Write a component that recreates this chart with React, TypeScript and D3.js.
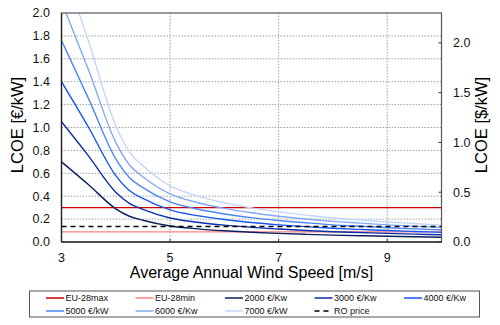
import React from "react";
import * as d3 from "d3";

const speeds = [3, 3.5, 4, 4.25, 4.5, 5, 5.5, 6, 6.5, 7, 7.5, 8, 8.5, 9, 9.5, 10];
const lcoe2000 = [0.70, 0.50, 0.29, 0.225, 0.19, 0.14, 0.115, 0.098, 0.085, 0.075, 0.067, 0.06, 0.055, 0.05, 0.046, 0.042];
const lcoe3000 = [1.05, 0.75, 0.435, 0.338, 0.285, 0.21, 0.173, 0.147, 0.128, 0.113, 0.1, 0.09, 0.083, 0.075, 0.069, 0.063];
const lcoe4000 = [1.40, 1.00, 0.58, 0.45, 0.38, 0.28, 0.23, 0.196, 0.17, 0.15, 0.134, 0.12, 0.11, 0.10, 0.092, 0.084];
const lcoe5000 = [1.76, 1.25, 0.725, 0.563, 0.475, 0.35, 0.288, 0.245, 0.213, 0.188, 0.168, 0.15, 0.138, 0.125, 0.115, 0.105];
const lcoe6000 = [2.10, 1.50, 0.87, 0.675, 0.57, 0.42, 0.345, 0.294, 0.255, 0.225, 0.201, 0.18, 0.165, 0.15, 0.138, 0.126];
const lcoe7000 = [2.45, 1.75, 1.015, 0.788, 0.665, 0.49, 0.403, 0.343, 0.298, 0.263, 0.235, 0.21, 0.193, 0.175, 0.161, 0.147];

const euMax = 0.30;
const euMin = 0.088;
const roPrice = 0.135;

const xTicks = [3, 5, 7, 9];
const yTicks = [0, 0.2, 0.4, 0.6, 0.8, 1.0, 1.2, 1.4, 1.6, 1.8, 2.0];
const yRightTicks = [0, 0.5, 1.0, 1.5, 2.0];

const curveSeries = [
  { name: "2000 €/Kw", values: lcoe2000, color: "#0b1f5e" },
  { name: "3000 €/Kw", values: lcoe3000, color: "#0a2fa8" },
  { name: "4000 €/Kw", values: lcoe4000, color: "#1856f0" },
  { name: "5000 €/kW", values: lcoe5000, color: "#4a88f5" },
  { name: "6000 €/Kw", values: lcoe6000, color: "#80aaf5" },
  { name: "7000 €/kW", values: lcoe7000, color: "#c2d6fb" },
];

const legendItems = [
  { name: "EU-28max", color: "#cc0000", dash: "" },
  { name: "EU-28min", color: "#ff8080", dash: "" },
  { name: "2000 €/Kw", color: "#0b1f5e", dash: "" },
  { name: "3000 €/Kw", color: "#0a2fa8", dash: "" },
  { name: "4000 €/Kw", color: "#1856f0", dash: "" },
  { name: "5000 €/kW", color: "#4a88f5", dash: "" },
  { name: "6000 €/Kw", color: "#80aaf5", dash: "" },
  { name: "7000 €/kW", color: "#c2d6fb", dash: "" },
  { name: "RO price", color: "#000000", dash: "5,4" },
];

const W = 500;
const H = 325;
const L = 61.5, R = 441.5, T = 13, B = 242;
const font = "Liberation Sans, Arial, sans-serif";

export default function App() {
  const x = d3.scaleLinear().domain([3, 10]).range([L, R]);
  const y = d3.scaleLinear().domain([0, 2]).range([B, T]);
  const y2 = d3.scaleLinear().domain([0, 2.3]).range([B, T]);
  const line = d3
    .line<number>()
    .x((_, i) => x(speeds[i]))
    .y((d) => y(d))
    .curve(d3.curveMonotoneX);

  return (
    <svg width={W} height={H} style={{ position: "absolute", left: 0, top: 0, background: "#fff" }} fontFamily={font}>
      <defs>
        <clipPath id="plot">
          <rect x={L} y={T} width={R - L} height={B - T} />
        </clipPath>
      </defs>
      {/* grid */}
      {yTicks.slice(1, -1).map((t) => (
        <line key={"gy" + t} x1={L} x2={R} y1={y(t)} y2={y(t)} stroke="#a0a0a0" strokeWidth={1} strokeDasharray="1.5,1.5" />
      ))}
      {xTicks.slice(1).map((t) => (
        <line key={"gx" + t} x1={x(t)} x2={x(t)} y1={T} y2={B} stroke="#a0a0a0" strokeWidth={1} strokeDasharray="1.5,1.5" />
      ))}
      <g clipPath="url(#plot)">
        <line x1={L} x2={R} y1={y(euMax)} y2={y(euMax)} stroke="#cc0000" strokeWidth={1.4} />
        <line x1={L} x2={R} y1={y(euMin)} y2={y(euMin)} stroke="#ff8080" strokeWidth={1.4} />
        {curveSeries.map((s) => (
          <path key={s.name} d={line(s.values) || ""} fill="none" stroke={s.color} strokeWidth={1.4} />
        ))}
        <line x1={L} x2={R} y1={y(roPrice)} y2={y(roPrice)} stroke="#000" strokeWidth={1.4} strokeDasharray="5,4" />
      </g>
      {/* frame */}
      <rect x={L} y={T} width={R - L} height={B - T} fill="none" stroke="#555" strokeWidth={1.2} />
      <line x1={L} x2={L} y1={T} y2={B} stroke="#222" strokeWidth={1.3} />
      <line x1={L} x2={R} y1={B} y2={B} stroke="#333" strokeWidth={1.3} />
      {/* left ticks */}
      {yTicks.map((t) => (
        <text key={"ly" + t} x={50} y={y(t)} dy="0.35em" textAnchor="end" fontSize={12.5} fill="#111">
          {t.toFixed(1)}
        </text>
      ))}
      {/* bottom ticks */}
      {xTicks.map((t) => (
        <g key={"bx" + t}>
          <line x1={x(t)} x2={x(t)} y1={B} y2={B - 3} stroke="#333" />
          <text x={x(t)} y={258} dy="0.35em" textAnchor="middle" fontSize={12.5} fill="#111">
            {t}
          </text>
        </g>
      ))}
      {/* right ticks */}
      {yRightTicks.map((t) => (
        <g key={"ry" + t}>
          <line x1={R - 3} x2={R} y1={y2(t)} y2={y2(t)} stroke="#333" />
          <text x={453} y={y2(t)} dy="0.35em" textAnchor="start" fontSize={12.5} fill="#111">
            {t.toFixed(1)}
          </text>
        </g>
      ))}
      {/* axis titles */}
      <text transform={`translate(23,125) rotate(-90)`} textAnchor="middle" fontSize={16.5} fill="#000">
        LCOE [€/kW]
      </text>
      <text transform={`translate(487,125) rotate(-90)`} textAnchor="middle" fontSize={16.5} fill="#000">
        LCOE [$/kW]
      </text>
      <text x={(L + R) / 2} y={278} textAnchor="middle" fontSize={16} fill="#000">
        Average Annual Wind Speed [m/s]
      </text>
      {/* legend */}
      <rect x={29.5} y={291} width={450} height={26} fill="#fff" stroke="#555" strokeWidth={1} />
      {legendItems.map((it, i) => {
        const col = i % 5;
        const row = Math.floor(i / 5);
        const lx = 46 + col * 89.5;
        const ly = 298 + row * 13;
        return (
          <g key={it.name}>
            <line x1={lx} x2={lx + 18} y1={ly} y2={ly} stroke={it.color} strokeWidth={1.5} strokeDasharray={it.dash || undefined} />
            <text x={lx + 19.5} y={ly} dy="0.35em" fontSize={9} fill="#111">
              {it.name}
            </text>
          </g>
        );
      })}
    </svg>
  );
}
